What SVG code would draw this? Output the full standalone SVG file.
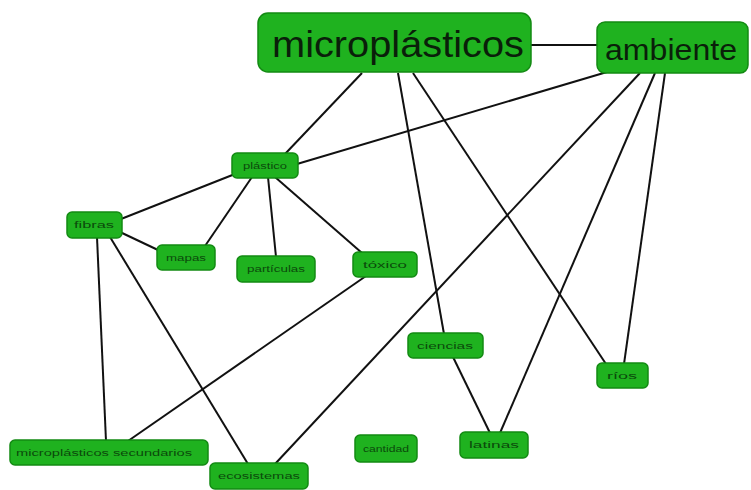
<svg xmlns="http://www.w3.org/2000/svg" width="751" height="490" viewBox="0 0 751 490">
<style>
.n rect{fill:#1fb21f;stroke:#138a13;stroke-width:1.5}
.s{font-family:"Liberation Sans",Arial,sans-serif;font-size:8.5px;fill:#0b4a0b;text-anchor:middle}
.b{font-family:"Liberation Sans",Arial,sans-serif;fill:#0a1f0a;text-anchor:middle}
#edges line{stroke:#111;stroke-width:2}
</style>
<rect width="751" height="490" fill="#fff"/>
<g id="edges">
<line x1="531" y1="45" x2="597" y2="45"/>
<line x1="362" y1="73" x2="285" y2="154"/>
<line x1="398" y1="73" x2="444" y2="334"/>
<line x1="413" y1="73" x2="606" y2="364"/>
<line x1="607" y1="72" x2="297" y2="164"/>
<line x1="640" y1="73" x2="275" y2="464"/>
<line x1="655" y1="73" x2="500" y2="433"/>
<line x1="665" y1="73" x2="624" y2="364"/>
<line x1="240" y1="172" x2="121" y2="219"/>
<line x1="252" y1="177" x2="205" y2="246"/>
<line x1="268" y1="177" x2="276" y2="257"/>
<line x1="275" y1="177" x2="362" y2="253"/>
<line x1="120" y1="232" x2="158" y2="250"/>
<line x1="97" y1="237" x2="106" y2="441"/>
<line x1="110" y1="237" x2="248" y2="464"/>
<line x1="366" y1="276" x2="128" y2="441"/>
<line x1="453" y1="357" x2="490" y2="433"/>
</g>
<g id="microplasticos" class="n"><rect x="258" y="13" width="273" height="59" rx="10"/><text class="b" x="398" y="57" font-size="36" textLength="252" lengthAdjust="spacingAndGlyphs">microplásticos</text></g>
<g id="ambiente" class="n"><rect x="597" y="22" width="151" height="51" rx="8"/><text class="b" x="671" y="60" font-size="30" textLength="132" lengthAdjust="spacingAndGlyphs">ambiente</text></g>
<g id="plastico" class="n"><rect x="232" y="153" width="66" height="25" rx="5"/><text class="s" x="265" y="169" textLength="44" lengthAdjust="spacingAndGlyphs">plástico</text></g>
<g id="fibras" class="n"><rect x="67" y="212" width="55" height="26" rx="5"/><text class="s" x="94" y="228" textLength="40" lengthAdjust="spacingAndGlyphs">fibras</text></g>
<g id="mapas" class="n"><rect x="157" y="245" width="58" height="25" rx="5"/><text class="s" x="186" y="261" textLength="40" lengthAdjust="spacingAndGlyphs">mapas</text></g>
<g id="particulas" class="n"><rect x="237" y="256" width="78" height="26" rx="5"/><text class="s" x="276" y="272" textLength="58" lengthAdjust="spacingAndGlyphs">partículas</text></g>
<g id="toxico" class="n"><rect x="353" y="252" width="64" height="25" rx="5"/><text class="s" x="385" y="268" textLength="44" lengthAdjust="spacingAndGlyphs">tóxico</text></g>
<g id="ciencias" class="n"><rect x="408" y="333" width="75" height="25" rx="5"/><text class="s" x="445" y="349" textLength="56" lengthAdjust="spacingAndGlyphs">ciencias</text></g>
<g id="rios" class="n"><rect x="597" y="363" width="51" height="25" rx="5"/><text class="s" x="622" y="379" textLength="30" lengthAdjust="spacingAndGlyphs">ríos</text></g>
<g id="microplasticos-secundarios" class="n"><rect x="10" y="440" width="198" height="25" rx="5"/><text class="s" x="104" y="456" textLength="176" lengthAdjust="spacingAndGlyphs">microplásticos secundarios</text></g>
<g id="ecosistemas" class="n"><rect x="210" y="463" width="98" height="26" rx="5"/><text class="s" x="259" y="479" textLength="82" lengthAdjust="spacingAndGlyphs">ecosistemas</text></g>
<g id="cantidad" class="n"><rect x="355" y="435" width="62" height="27" rx="5"/><text class="s" x="386" y="452" textLength="46" lengthAdjust="spacingAndGlyphs">cantidad</text></g>
<g id="latinas" class="n"><rect x="460" y="432" width="68" height="26" rx="5"/><text class="s" x="494" y="448" textLength="50" lengthAdjust="spacingAndGlyphs">latinas</text></g>
</svg>
